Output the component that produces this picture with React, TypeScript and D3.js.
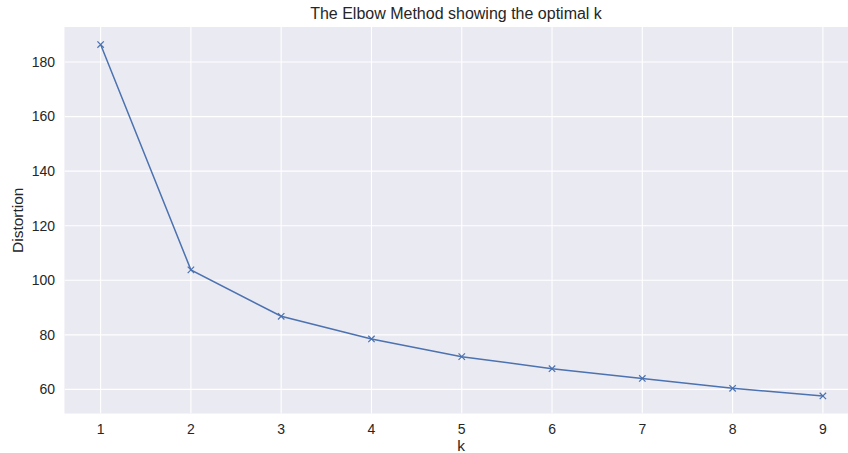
import React from "react";
import * as d3 from "d3";

const kValues = [1, 2, 3, 4, 5, 6, 7, 8, 9];
const distortions = [186.4, 103.8, 86.8, 78.5, 72.0, 67.6, 64.0, 60.4, 57.6];
const yTicks = [60, 80, 100, 120, 140, 160, 180];
const xTicks = [1, 2, 3, 4, 5, 6, 7, 8, 9];

const W = 848;
const H = 453;
const left = 64.5;
const right = 859;
const top = 27;
const bottom = 413.5;

export default function App() {
  const x = d3.scaleLinear().domain([0.6, 9.4]).range([left, right]);
  const ymin = d3.min(distortions)!;
  const ymax = d3.max(distortions)!;
  const pad = (ymax - ymin) * 0.05;
  const y = d3.scaleLinear().domain([ymin - pad, ymax + pad]).range([bottom, top]);
  const line = d3
    .line<number>()
    .x((_, i) => x(kValues[i]))
    .y((d) => y(d));
  const font = "'Liberation Sans', Arial, sans-serif";
  const txt = "#262626";
  const m = 3.2;
  return (
    <svg
      width={W}
      height={H}
      style={{ position: "absolute", left: 0, top: 0, background: "#fff" }}
      fontFamily={font}
    >
      <defs>
        <clipPath id="plot">
          <rect x={left} y={top} width={W - left} height={bottom - top} />
        </clipPath>
      </defs>
      <rect x={left} y={top} width={W - left} height={bottom - top} fill="#EAEAF2" />
      <g clipPath="url(#plot)">
        {xTicks.map((t) => (
          <line key={"gx" + t} x1={x(t)} x2={x(t)} y1={top} y2={bottom} stroke="#fff" strokeWidth={1.1} />
        ))}
        {yTicks.map((t) => (
          <line key={"gy" + t} x1={left} x2={W} y1={y(t)} y2={y(t)} stroke="#fff" strokeWidth={1.1} />
        ))}
        <path d={line(distortions) || ""} fill="none" stroke="#4C72B0" strokeWidth={1.5} />
        {distortions.map((d, i) => (
          <g key={"m" + i} stroke="#4C72B0" strokeWidth={1.2}>
            <line x1={x(kValues[i]) - m} y1={y(d) - m} x2={x(kValues[i]) + m} y2={y(d) + m} />
            <line x1={x(kValues[i]) - m} y1={y(d) + m} x2={x(kValues[i]) + m} y2={y(d) - m} />
          </g>
        ))}
      </g>
      {yTicks.map((t) => (
        <text key={"ty" + t} x={55} y={y(t)} dy="0.35em" textAnchor="end" fontSize={14} fill={txt}>
          {t}
        </text>
      ))}
      {xTicks.map((t) => (
        <text key={"tx" + t} x={x(t)} y={434} textAnchor="middle" fontSize={14} fill={txt}>
          {t}
        </text>
      ))}
      <text x={461} y={451} textAnchor="middle" fontSize={15.5} fill={txt}>
        k
      </text>
      <text
        transform={`translate(23, ${(top + bottom) / 2}) rotate(-90)`}
        textAnchor="middle"
        fontSize={15.5}
        fill={txt}
      >
        Distortion
      </text>
      <text x={456} y={19} textAnchor="middle" fontSize={16} fill={txt}>
        The Elbow Method showing the optimal k
      </text>
    </svg>
  );
}
